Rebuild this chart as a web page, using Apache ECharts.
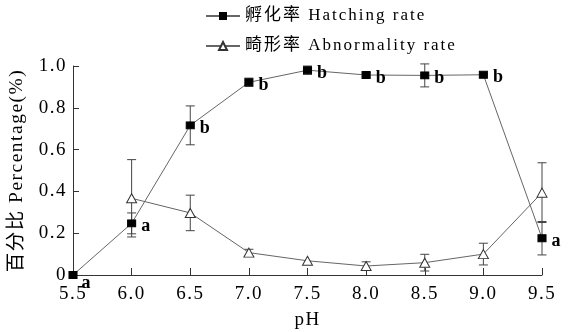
<!DOCTYPE html>
<html><head><meta charset="utf-8">
<script src="https://cdn.jsdelivr.net/npm/echarts@6/dist/echarts.min.js"></script>
<style>html,body{margin:0;padding:0;background:#fff}#c{width:569px;height:332px}</style>
</head><body><div id="c"></div>
<script>
const ph = [5.5, 6.0, 6.5, 7.0, 7.5, 8.0, 8.5, 9.0, 9.5];
const hatching = [0.0, 0.247, 0.716, 0.922, 0.98, 0.957, 0.955, 0.958, 0.176];
const hatchingErr = [0.0, 0.05, 0.093, 0.02, 0.02, 0.01, 0.055, 0.0, 0.08];
const hatchingLetters = ['a', 'a', 'b', 'b', 'b', 'b', 'b', 'b', 'a'];
const abnormal = [null, 0.367, 0.297, 0.107, 0.068, 0.043, 0.059, 0.10, 0.394];
const abnormalErr = [0, 0.185, 0.085, 0.016, 0.0, 0.02, 0.04, 0.052, 0.143];
const xTickDigits = 1;

// wide typesetting of the original: add letter spacing to canvas text
(function () {
  const proto = CanvasRenderingContext2D.prototype;
  const d = Object.getOwnPropertyDescriptor(proto, 'font');
  if (!d || !('letterSpacing' in proto)) return;
  Object.defineProperty(proto, 'font', {
    configurable: true,
    get: function () { return d.get.call(this); },
    set: function (v) {
      d.set.call(this, v);
      const m = /(\d+(?:\.\d+)?)px/.exec(v);
      const s = m ? parseFloat(m[1]) : 12;
      this.letterSpacing = (s === 17 ? 2 : (s >= 18 ? 1.5 : 0)) + 'px';
    }
  });
})();

const FONT = "'Liberation Serif','Noto Sans CJK SC',serif";
const chart = echarts.init(document.getElementById('c'));

function errData(vals, errs) {
  const out = [];
  vals.forEach((v, i) => { if (v !== null && errs[i] > 0) out.push([ph[i], v - errs[i], v + errs[i]]); });
  return out;
}
function errSeries(vals, errs) {
  return {
    type: 'custom', silent: true, z: 1,
    data: errData(vals, errs),
    renderItem: function (params, api) {
      const x = api.value(0);
      const lo = api.coord([x, api.value(1)]);
      const hi = api.coord([x, api.value(2)]);
      const w = 4.5;
      const st = { stroke: '#444', lineWidth: 1, fill: null };
      return { type: 'group', children: [
        { type: 'line', shape: { x1: lo[0], y1: lo[1], x2: hi[0], y2: hi[1] }, style: st },
        { type: 'line', shape: { x1: lo[0] - w, y1: lo[1], x2: lo[0] + w, y2: lo[1] }, style: st },
        { type: 'line', shape: { x1: hi[0] - w, y1: hi[1], x2: hi[0] + w, y2: hi[1] }, style: st }
      ]};
    }
  };
}

chart.setOption({
  animation: false,
  backgroundColor: '#fff',
  textStyle: { fontFamily: FONT },
  grid: { left: 73, right: 27, top: 66, bottom: 57, containLabel: false, outerBoundsMode: 'none' },
  legend: {
    orient: 'vertical', left: 200, top: 1, itemGap: 10,
    itemWidth: 34, itemHeight: 10,
    textStyle: { fontFamily: FONT, fontSize: 17, lineHeight: 20, color: '#000' },
    data: ['孵化率 Hatching rate', '畸形率 Abnormality rate']
  },
  xAxis: {
    type: 'value', min: 5.5, max: 9.5, interval: 0.5,
    name: 'pH', nameLocation: 'middle', nameGap: 31,
    nameTextStyle: { fontFamily: FONT, fontSize: 19, color: '#000' },
    axisLine: { lineStyle: { color: '#333', width: 1 } },
    axisTick: { inside: true, length: 7, lineStyle: { color: '#333' } },
    axisLabel: { fontFamily: FONT, fontSize: 19, color: '#000', margin: 9, formatter: v => v.toFixed(xTickDigits) },
    splitLine: { show: false }
  },
  yAxis: {
    type: 'value', min: 0, max: 1.0, interval: 0.2,
    name: '百分比 Percentage(%)', nameLocation: 'middle', nameGap: 37, nameRotate: 90,
    nameTextStyle: { fontFamily: FONT, fontSize: 19.5, color: '#000' },
    axisLine: { show: true, lineStyle: { color: '#333', width: 1 } },
    axisTick: { show: true, inside: true, length: 6, lineStyle: { color: '#333' } },
    axisLabel: { fontFamily: FONT, fontSize: 19, color: '#000', margin: 6,
      formatter: v => (v === 0 ? '0' : v.toFixed(1)) },
    splitLine: { show: false }
  },
  series: [
    errSeries(hatching, hatchingErr),
    errSeries(abnormal, abnormalErr),
    {
      name: '畸形率 Abnormality rate', type: 'line', z: 3,
      data: ph.map((x, i) => [x, abnormal[i]]),
      connectNulls: false,
      symbol: 'triangle', symbolSize: [10, 9],
      lineStyle: { color: '#666', width: 1 },
      itemStyle: { color: '#fff', borderColor: '#333', borderWidth: 1 }
    },
    {
      name: '孵化率 Hatching rate', type: 'line', z: 4,
      data: ph.map((x, i) => i === 0
        ? { value: [x, hatching[i]], label: { offset: [-1, 8] } }
        : [x, hatching[i]]),
      symbol: 'rect', symbolSize: [8, 7],
      lineStyle: { color: '#666', width: 1 },
      itemStyle: { color: '#000', borderColor: '#000' },
      label: {
        show: true, position: 'right', distance: 5, offset: [0, 3],
        fontFamily: FONT, fontSize: 18, fontWeight: 'bold', color: '#000',
        formatter: p => hatchingLetters[p.dataIndex]
      }
    }
  ]
});
</script></body></html>
